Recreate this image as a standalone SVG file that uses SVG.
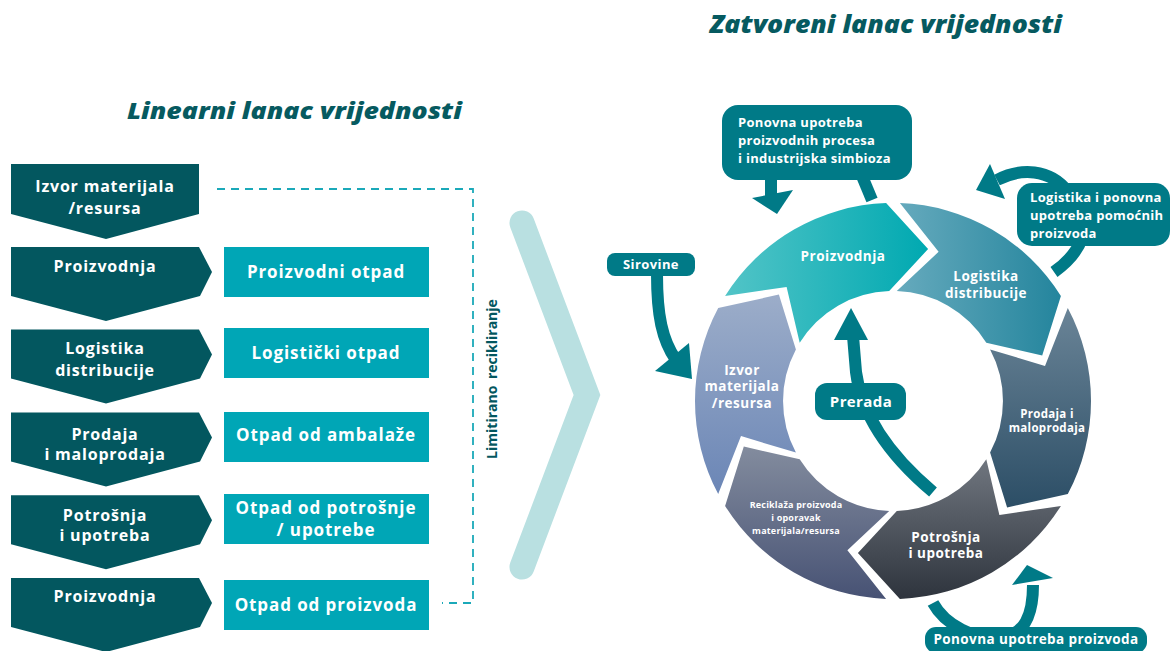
<svg xmlns="http://www.w3.org/2000/svg" width="1171" height="651" viewBox="0 0 1171 651">
<style>
text{font-family:"Open Sans","Liberation Sans",sans-serif;font-weight:700;fill:#fff}
.title{font-style:italic;font-weight:800;fill:#065a60;font-size:23px}
.chev{fill:#03575f}
.waste{fill:#00a6b6}
.lt{font-size:16px;text-anchor:middle;letter-spacing:0.8px}
.wt{font-size:17px;text-anchor:middle;letter-spacing:0.9px}
.seg{font-size:13.5px;text-anchor:middle;letter-spacing:0.5px}
.call{fill:#007a87}
.ct{font-size:13px;letter-spacing:0.3px}
.ar{fill:none;stroke:#007a87;stroke-width:12}
.ah{fill:#007a87}
</style>
<defs>
<linearGradient id="gProiz" x1="0" y1="0" x2="1" y2="0"><stop offset="0" stop-color="#52c4c7"/><stop offset="1" stop-color="#00a9b1"/></linearGradient>
<linearGradient id="gLog" x1="0" y1="0" x2="1" y2="0"><stop offset="0" stop-color="#66aabd"/><stop offset="1" stop-color="#24859d"/></linearGradient>
<linearGradient id="gProd" x1="0" y1="0" x2="0" y2="1"><stop offset="0" stop-color="#6a8497"/><stop offset="1" stop-color="#2c4e66"/></linearGradient>
<linearGradient id="gPot" x1="0" y1="0" x2="0" y2="1"><stop offset="0" stop-color="#70767f"/><stop offset="1" stop-color="#2e343d"/></linearGradient>
<linearGradient id="gRec" x1="0" y1="0" x2="0" y2="1"><stop offset="0" stop-color="#838c9e"/><stop offset="1" stop-color="#475274"/></linearGradient>
<linearGradient id="gIzv" x1="0" y1="0" x2="0" y2="1"><stop offset="0" stop-color="#9cadc9"/><stop offset="1" stop-color="#6b86b6"/></linearGradient>
</defs>

<text class="title" x="127" y="119" textLength="335" lengthAdjust="spacingAndGlyphs">Linearni lanac vrijednosti</text>
<text class="title" x="710" y="33" style="font-size:24px" textLength="352" lengthAdjust="spacingAndGlyphs">Zatvoreni lanac vrijednosti</text>

<!-- linear chain -->
<g id="lin1"><path class="chev" d="M11 164H199V214L106 239L11 214Z"/><text class="lt" x="105" y="192">Izvor materijala</text><text class="lt" x="105" y="214">/resursa</text></g>
<g id="lin2"><path class="chev" d="M11 247H199L212 272L200 296L106 321L11 296Z"/><text class="lt" x="105" y="272">Proizvodnja</text></g>
<g id="lin3"><path class="chev" d="M11 329.6H199L212 354.6L200 378.6L106 403.6L11 378.6Z"/><text class="lt" x="105" y="354">Logistika</text><text class="lt" x="105" y="376">distribucije</text></g>
<g id="lin4"><path class="chev" d="M11 412.4H199L212 437.4L200 461.4L106 486.4L11 461.4Z"/><text class="lt" x="105" y="440">Prodaja</text><text class="lt" x="105" y="460">i maloprodaja</text></g>
<g id="lin5"><path class="chev" d="M11 495.2H199L212 520.2L200 544.2L106 569.2L11 544.2Z"/><text class="lt" x="105" y="521">Potrošnja</text><text class="lt" x="105" y="541">i upotreba</text></g>
<g id="lin6"><path class="chev" d="M11 578H199L212 603L200 627L106 652L11 627Z"/><text class="lt" x="105" y="602">Proizvodnja</text></g>

<g id="w1"><rect class="waste" x="224" y="247" width="205" height="50"/><text class="wt" x="326" y="278">Proizvodni otpad</text></g>
<g id="w2"><rect class="waste" x="224" y="328" width="205" height="50"/><text class="wt" x="326" y="359">Logistički otpad</text></g>
<g id="w3"><rect class="waste" x="224" y="412" width="205" height="50"/><text class="wt" x="326" y="441">Otpad od ambalaže</text></g>
<g id="w4"><rect class="waste" x="224" y="494" width="205" height="50"/><text class="wt" x="326" y="514">Otpad od potrošnje</text><text class="wt" x="326" y="536">/ upotrebe</text></g>
<g id="w5"><rect class="waste" x="224" y="580" width="205" height="50"/><text class="wt" x="326" y="611">Otpad od proizvoda</text></g>

<g id="connectors">
<path d="M217 189H473V603H442" fill="none" stroke="#1ba9b9" stroke-width="1.8" stroke-dasharray="8 6"/>
<path d="M522 223L587 395L522 567" fill="none" stroke="#b9e0e1" stroke-width="25" stroke-linecap="round" stroke-linejoin="miter"/>
<path class="ar" d="M657 274C657 315 662 340 676 360"/>
<path class="ah" d="M655 371L689 343L692 379Z"/>
<path class="ar" d="M771 178V202"/>
<path class="ah" d="M752 198L793 190L777 214Z"/>
<path class="ar" d="M862 176L872 200"/>
<path class="ar" d="M1054 272C1068 262 1078 250 1082 238"/>
<path class="ar" d="M1068 192C1050 168 1020 168 997 180"/>
<path class="ah" d="M976 190L990 164L1005 199Z"/>
<path class="ar" d="M933 603C945 625 975 640 1000 638C1025 635 1033 615 1033 585"/>
<path class="ah" d="M1012 585L1027 565L1053 578Z"/>
</g>

<!-- ring -->
<g id="ring-proizvodnja"><path fill="url(#gProiz)" d="M725.1 296.1A198 198 0 0 1 886.1 203.1L928.1 249L889.2 291.1A110 110 0 0 0 799.7 342.7L786.6 286.9Z"/><text class="seg" x="843" y="261">Proizvodnja</text></g>
<g id="ring-logistika"><path fill="url(#gLog)" d="M899.9 203.1A198 198 0 0 1 1060.9 296.1L1042.2 355.4L986.3 342.7A110 110 0 0 0 896.8 291.1L938.6 251.8Z"/><text class="seg" x="986" y="281">Logistika</text><text class="seg" x="986" y="298">distribucije</text></g>
<g id="ring-prodaja"><path fill="url(#gProd)" d="M1067.8 308A198 198 0 0 1 1067.8 494L1007.1 507.4L990.1 452.6A110 110 0 0 0 990.1 349.4L1045 365.9Z"/><text class="seg" x="1047" y="418" style="font-size:11.5px;letter-spacing:0.3px">Prodaja i</text><text class="seg" x="1047" y="432" style="font-size:11.5px;letter-spacing:0.3px">maloprodaja</text></g>
<g id="ring-potrosnja"><path fill="url(#gPot)" d="M1060.9 505.9A198 198 0 0 1 899.9 598.9L857.9 553L896.8 510.9A110 110 0 0 0 986.3 459.3L999.4 515.1Z"/><text class="seg" x="946" y="542">Potrošnja</text><text class="seg" x="946" y="558">i upotreba</text></g>
<g id="ring-reciklaza"><path fill="url(#gRec)" d="M886.1 598.9A198 198 0 0 1 725.1 505.9L743.8 446.6L799.7 459.3A110 110 0 0 0 889.2 510.9L847.4 550.2Z"/><text class="seg" x="796" y="508" style="font-size:9px;letter-spacing:0.2px">Reciklaža proizvoda</text><text class="seg" x="796" y="521" style="font-size:9px;letter-spacing:0.2px">i oporavak</text><text class="seg" x="796" y="534" style="font-size:9px;letter-spacing:0.2px">materijala/resursa</text></g>
<g id="ring-izvor"><path fill="url(#gIzv)" d="M718.2 494A198 198 0 0 1 718.2 308L778.9 294.6L795.9 349.4A110 110 0 0 0 795.9 452.6L741 436.1Z"/><text class="seg" x="742" y="375">Izvor</text><text class="seg" x="742" y="391">materijala</text><text class="seg" x="742" y="408">/resursa</text></g>

<!-- Prerada -->
<g id="prerada-arrow"><path class="ar" d="M933 492C895 460 862 420 856 372L853 336"/><path class="ah" d="M834 340L868 340L851 308Z"/></g>
<g id="prerada"><rect class="call" x="815" y="383" width="91" height="37" rx="12"/><text x="861" y="407" style="font-size:15px;text-anchor:middle;letter-spacing:0.4px">Prerada</text></g>

<!-- callouts -->
<g id="callout-top"><rect class="call" x="722" y="105" width="190" height="75" rx="16"/><text class="ct" x="738" y="127">Ponovna upotreba</text><text class="ct" x="738" y="145">proizvodnih procesa</text><text class="ct" x="738" y="163">i industrijska simbioza</text></g>
<g id="callout-right"><rect class="call" x="1017" y="183" width="153" height="63" rx="15"/><text class="ct" x="1030" y="202">Logistika i ponovna</text><text class="ct" x="1030" y="220">upotreba pomoćnih</text><text class="ct" x="1030" y="238">proizvoda</text></g>
<g id="sirovine"><rect class="call" x="607" y="253" width="88" height="23" rx="8"/><text x="651" y="269" style="font-size:13px;text-anchor:middle;letter-spacing:0.4px">Sirovine</text></g>
<g id="callout-bottom"><rect class="call" x="925" y="627" width="222" height="26" rx="11"/><text x="1036" y="644" style="font-size:13.5px;text-anchor:middle;letter-spacing:0.4px">Ponovna upotreba proizvoda</text></g>

<text x="497" y="379" transform="rotate(-90 497 379)" style="font-size:14px;fill:#03575f;text-anchor:middle;word-spacing:3px">Limitirano recikliranje</text>
</svg>
